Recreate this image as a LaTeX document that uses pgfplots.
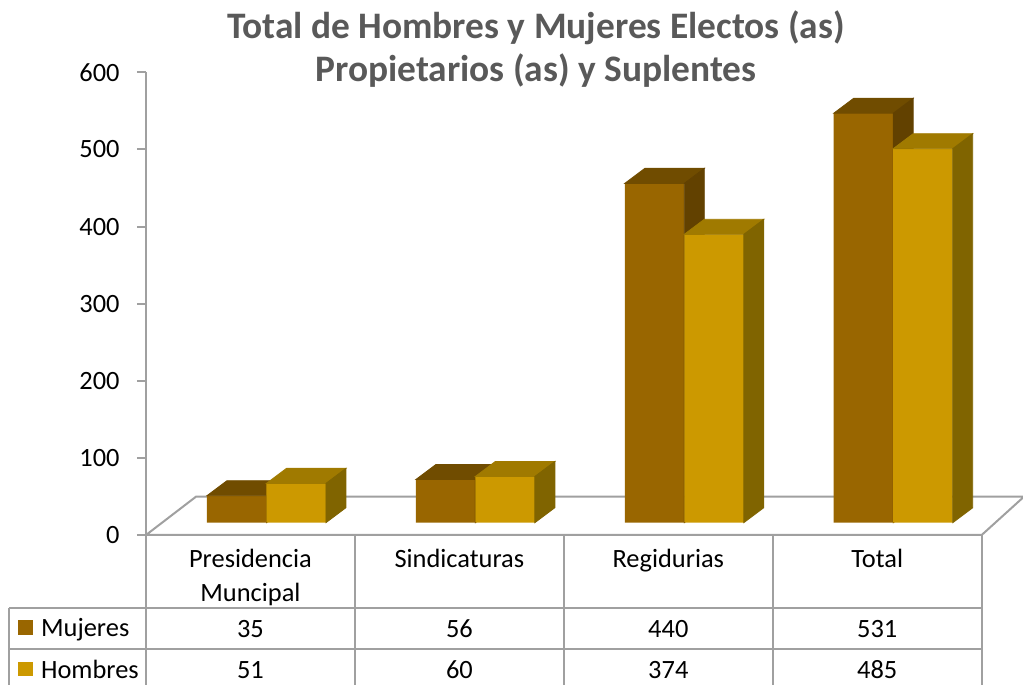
\documentclass[border=0pt]{standalone}
\usepackage{pgfplots}
\usepackage{pgfplotstable}
\pgfplotsset{compat=1.18}
\usepackage{fontspec}
\setmainfont{Carlito}

\definecolor{mFront}{HTML}{996600}
\definecolor{mTop}{HTML}{704C00}
\definecolor{mSide}{HTML}{624100}
\definecolor{hFront}{HTML}{CC9900}
\definecolor{hTop}{HTML}{A07A00}
\definecolor{hSide}{HTML}{806400}
\definecolor{regla}{HTML}{A0A0A0}
\definecolor{gristitulo}{HTML}{595959}

% idx: posicion de la categoria; M = Mujeres, H = Hombres
\pgfplotstableread{
idx M H
0 35 51
1 56 60
2 440 374
3 531 485
}\datos

\pgfdeclareplotmark{vacio}{}

% caras superior y lateral de cada barra (1px = 0.5pt)
\newcommand\caras[3]{%
  \pgfmathsetmacro\altura{\pgfplotspointmetatransformed*0.23135}%
  \fill[#2] (#1,0pt) -- ++(29.75pt,0pt) -- ++(10pt,7.5pt) -- ++(-29.75pt,0pt) -- cycle;
  \fill[#3] (#1+29.75pt,0pt) -- ++(10pt,7.5pt) -- ++(0pt,-\altura pt) -- ++(-10pt,-7.5pt) -- cycle;
}

\pgfplotsset{
  barras/.style={
    scale only axis, width=417.85pt, height=231.35pt,
    at={(81pt,81.15pt)}, anchor=south west,
    xmin=-0.5, xmax=3.5, ymin=0, ymax=600,
    hide axis, clip=false,
    point meta min=0, point meta max=600,
  },
}

\begin{document}
\begin{tikzpicture}
\path[use as bounding box, clip] (0,0) rectangle (511.5pt,342.5pt);

% plano frontal: eje y, suelo y encabezados de la tabla
\begin{axis}[
  scale only axis, width=417.85pt, height=231.35pt,
  at={(73pt,75pt)}, anchor=south west,
  xmin=-0.5, xmax=3.5, ymin=0, ymax=600,
  clip=false,
  axis y line*=left, axis x line*=bottom,
  axis line style={-, draw=regla, line width=1.1pt},
  ytick={0,100,...,600},
  ytick align=outside, major tick length=4.5pt,
  ytick style={draw=regla, line width=1pt},
  xtick={0,1,2,3},
  xticklabels={{Presidencia\\Muncipal},Sindicaturas,Regidurias,Total},
  xtick style={draw=none},
  /pgf/number format/assume math mode=true,
  tick label style={font=\fontsize{13.2}{17}\selectfont, text=black},
  yticklabel style={anchor=east, inner sep=0pt, xshift=-8.5pt},
  xticklabel style={anchor=north, align=center, inner sep=0pt, yshift=-7pt},
]
\addplot[fill=white, draw=regla, line width=1pt]
  coordinates {(-0.5,0) (3.5,0) (3.7025,49.7) (-0.2607,49.7)} -- cycle;
\addplot[only marks, mark=vacio, point meta=explicit,
  nodes near coords,
  every node near coord/.append style={anchor=base, inner sep=0pt, font=\fontsize{13.2}{15}\selectfont, text=black}]
  table[x=idx, y expr=-132.3, meta=M]{\datos};
\addplot[only marks, mark=vacio, point meta=explicit,
  nodes near coords,
  every node near coord/.append style={anchor=base, inner sep=0pt, font=\fontsize{13.2}{15}\selectfont, text=black}]
  table[x=idx, y expr=-186.7, meta=H]{\datos};
\end{axis}

% barras de Mujeres
\begin{axis}[barras]
\addplot[scatter, only marks, mark=vacio, point meta=y,
  scatter/@pre marker code/.code={\caras{-29.75pt}{mTop}{mSide}},
  scatter/@post marker code/.code={}]
  table[x=idx, y=M]{\datos};
\addplot[ybar, bar width=29.75pt, bar shift=-14.875pt, fill=mFront, draw=none]
  table[x=idx, y=M]{\datos};
\end{axis}

% barras de Hombres (delante de la cara lateral de Mujeres)
\begin{axis}[barras]
\addplot[scatter, only marks, mark=vacio, point meta=y,
  scatter/@pre marker code/.code={\caras{0pt}{hTop}{hSide}},
  scatter/@post marker code/.code={}]
  table[x=idx, y=H]{\datos};
\addplot[ybar, bar width=29.75pt, bar shift=14.875pt, fill=hFront, draw=none]
  table[x=idx, y=H]{\datos};
\end{axis}

% titulo, lineas de la tabla y leyenda (coordenadas en px)
\begin{scope}[x=0.5pt, y=-0.5pt, yshift=342.5pt]
\node[anchor=base, font=\bfseries\fontsize{18.7}{22}\selectfont, text=gristitulo]
  at (536,38.3) {Total de Hombres y Mujeres Electos (as)};
\node[anchor=base, font=\bfseries\fontsize{18.7}{22}\selectfont, text=gristitulo]
  at (536,81.7) {Propietarios (as) y Suplentes};
\begin{scope}[draw=regla, line width=1pt]
\foreach \xx in {146,354.9,563.8,772.8,981.7} \draw (\xx,535) -- (\xx,690);
\draw (9.3,607.7) -- (981.7,607.7);
\draw (9.3,649) -- (981.7,649);
\draw (9.3,607.7) -- (9.3,690);
\end{scope}
\fill[mFront] (18.3,620.5) rectangle (32.7,635);
\fill[hFront] (18.3,662) rectangle (32.7,676.5);
\node[anchor=base west, inner sep=0pt, font=\fontsize{13.2}{15}\selectfont] at (40.7,637) {Mujeres};
\node[anchor=base west, inner sep=0pt, font=\fontsize{13.2}{15}\selectfont] at (40.7,679) {Hombres};
\end{scope}
\end{tikzpicture}
\end{document}
